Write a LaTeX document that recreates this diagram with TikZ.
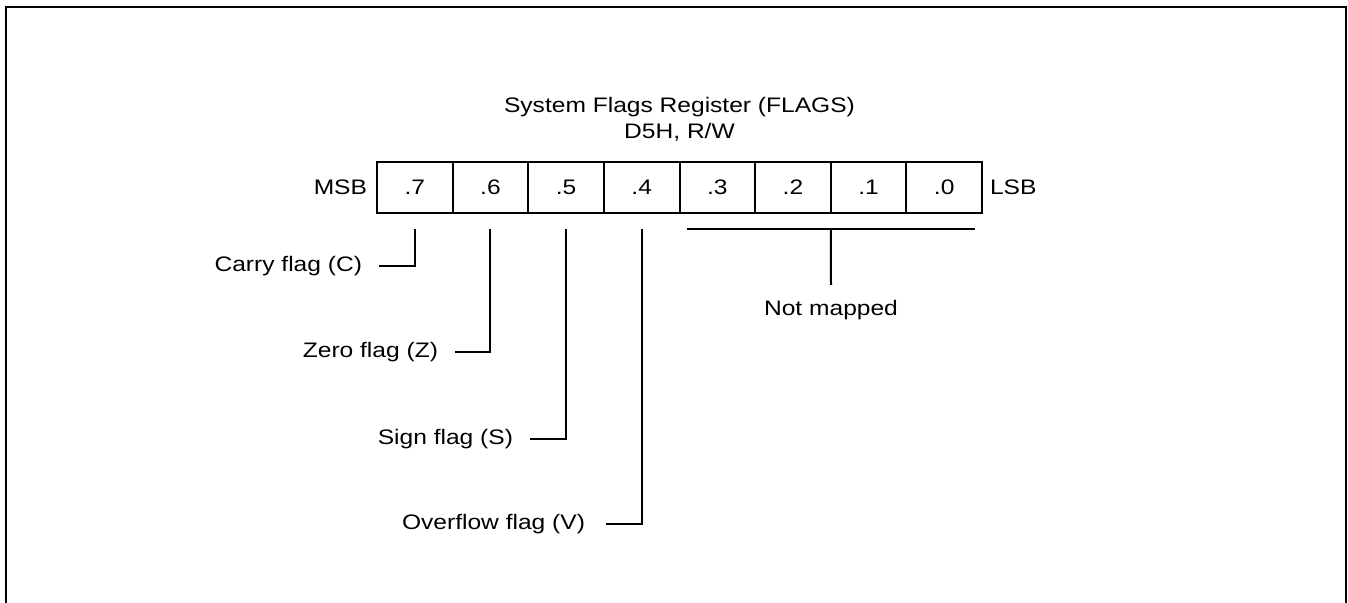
\documentclass[tikz,border=0pt]{standalone}
\usepackage{fontspec}
\setmainfont{Liberation Sans}[FakeStretch=1.17]
\usetikzlibrary{positioning}

\begin{document}
\begin{tikzpicture}[x=0.5pt, y=-0.5pt, line width=1pt,
		every node/.style={font=\fontsize{10.5}{13}\selectfont, inner sep=0pt, outer sep=0pt},
		cell/.style={draw, minimum width=37.8125pt, minimum height=25.5pt},
		flagtxt/.style={anchor=east}]
	\useasboundingbox (0,0) rectangle (1348,603);
	% ==================== 外框 ====================
	\draw (6,603) -- (6,7) -- (1346,7) -- (1346,603);
	
	% ==================== 寄存器 ====================
	\foreach \b [count=\i from 0] in {7,...,0}
		\node[cell] (b\b) at ({377+75.625*(\i+0.5)},187.5) {.\b};
	\node[left=5pt of b7] (msb) {MSB};
	\node[right=4pt of b0] (lsb) {LSB};
	\node[align=center, anchor=south] (title) at (679.5,141) {System Flags Register (FLAGS)\\D5H, R/W};
	
	% ==================== 标志位 ====================
	\node[flagtxt] (carry) at (362,266) {Carry flag (C)};
	\node[flagtxt] (zero) at (438,352) {Zero flag (Z)};
	\node[flagtxt] (sign) at (513,439) {Sign flag (S)};
	\node[flagtxt] (ovf) at (585,524) {Overflow flag (V)};
	\draw ([yshift=-8pt]b7.south) |- ([xshift=8.5pt]carry.east);
	\draw ([yshift=-8pt]b6.south) |- ([xshift=8.5pt]zero.east);
	\draw ([yshift=-8pt]b5.south) |- ([xshift=8.5pt]sign.east);
	\draw ([yshift=-8pt]b4.south) |- ([xshift=10.5pt]ovf.east);
	
	% 未映射位
	\node[anchor=north] (nomap) at (831,300) {Not mapped};
	\draw ([xshift=3.5pt, yshift=-8pt]b3.south west) -- ([xshift=-3.5pt, yshift=-8pt]b0.south east);
	\draw ([yshift=-8pt]b2.south east) -- ([yshift=7.5pt]nomap.north);
\end{tikzpicture}
\end{document}
